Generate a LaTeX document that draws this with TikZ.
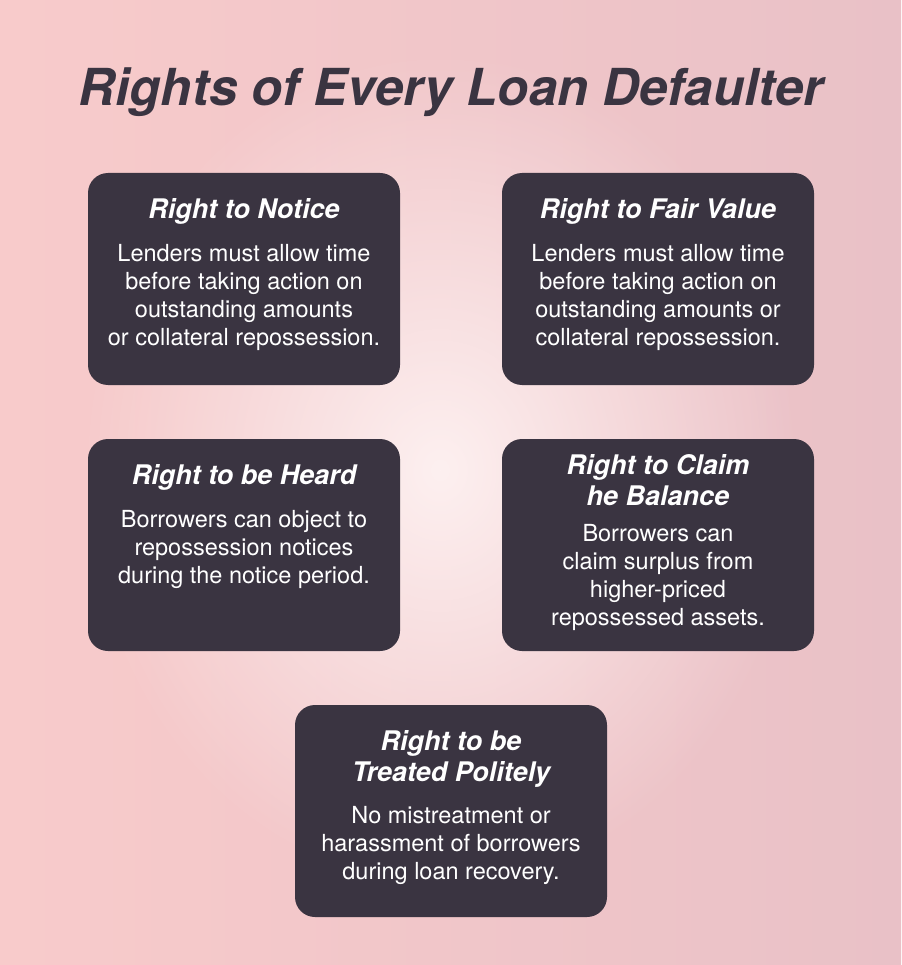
\documentclass[tikz,border=0pt]{standalone}
\usepackage{fontspec}
\setmainfont{TeX Gyre Heros}
\usetikzlibrary{positioning,fadings}

\definecolor{cardc}{RGB}{58,52,65}
\definecolor{pinkl}{RGB}{248,203,203}
\definecolor{pinkr}{RGB}{233,193,199}
\definecolor{glowc}{RGB}{253,240,240}

\tikzfading[name=glowfade, inner color=transparent!0, outer color=transparent!100]

\newcommand{\headfont}{\fontsize{27}{31}\selectfont\bfseries\itshape}
\newcommand{\bodyfont}{\fontsize{23.5}{28}\selectfont}

\begin{document}
\begin{tikzpicture}[
  x = 1pt, y = -1pt,
  card/.style={fill=cardc, rounded corners=20pt, minimum width=312pt,
    minimum height=212pt, inner sep=0pt},
  head/.style={text=white, font=\headfont, align=center, inner sep=0pt, anchor=north},
  body/.style={text=white, font=\bodyfont, align=center, inner sep=0pt, anchor=north}]
\useasboundingbox (0,0) rectangle (901,965);
% background
\shade[left color=pinkl, right color=pinkr] (0,0) rectangle (901,965);
\fill[glowc, path fading=glowfade] (440,470) ellipse (360 and 420);

\node[text=cardc, font=\fontsize{51}{58}\selectfont\bfseries\itshape, anchor=base]
  (title) at (451,106) {Rights of Every Loan Defaulter};

% cards
\node[card] (notice) at (244,279) {};
\node[card] (fair) at (658,279) {};
\node[card] (heard) at (244,545) {};
\node[card] (claim) at (658,545) {};
\node[card] (polite) at (451,811) {};

\node[head, below=25.5pt of notice.north] (notice-h) {Right to Notice};
\node[body, below=20pt of notice-h] {Lenders must allow time\\before taking action on\\outstanding amounts\\or collateral repossession.};

\node[head, below=25.5pt of fair.north] (fair-h) {Right to Fair Value};
\node[body, below=20pt of fair-h] {Lenders must allow time\\before taking action on\\outstanding amounts or\\collateral repossession.};

\node[head, below=25.5pt of heard.north] (heard-h) {Right to be Heard};
\node[body, below=20pt of heard-h] {Borrowers can object to\\repossession notices\\during the notice period.};

\node[head, below=15.5pt of claim.north] (claim-h) {Right to Claim\\he Balance};
\node[body, below=18pt of claim-h] {Borrowers can\\claim surplus from\\higher-priced\\repossessed assets.};

\node[head, below=25.5pt of polite.north] (polite-h) {Right to be\\Treated Politely};
\node[body, below=19pt of polite-h] {No mistreatment or\\harassment of borrowers\\during loan recovery.};
\end{tikzpicture}
\end{document}
